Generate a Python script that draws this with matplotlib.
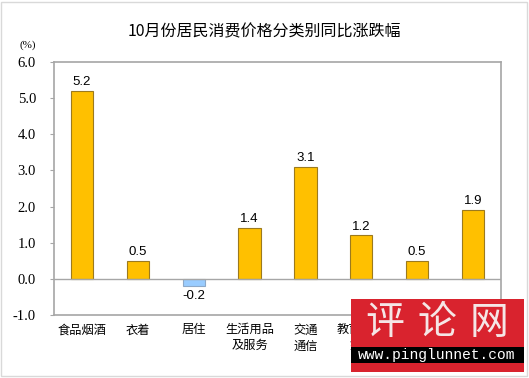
import matplotlib
matplotlib.use('Agg')
import matplotlib.pyplot as plt
from matplotlib.patches import Rectangle

plt.rcParams['font.family'] = ['Noto Sans CJK SC', 'DejaVu Sans']

# data
categories = ['食品烟酒', '衣着', '居住', '生活用品\n及服务', '交通\n通信',
              '教育文化\n娱乐', '医疗保健', '其他用品\n及服务']
values = [5.2, 0.5, -0.2, 1.4, 3.1, 1.2, 0.5, 1.9]
y_ticks = [-1.0, 0.0, 1.0, 2.0, 3.0, 4.0, 5.0, 6.0]
title = '10月份居民消费价格分类别同比涨跌幅'

W, H = 529, 378
fig = plt.figure(figsize=(W / 100, H / 100), dpi=100)
ax = fig.add_axes([54 / W, 1 - 315 / H, 447 / W, 253 / H])

colors = ['#FFC000' if v >= 0 else '#99CCFF' for v in values]
edges = ['#9C7A1E' if v >= 0 else '#8EA9C8' for v in values]
x = range(len(values))
ax.bar(x, values, width=0.4, color=colors, edgecolor=edges, linewidth=0.8, zorder=2)

for i, v in zip(x, values):
    off = 0.08 if v >= 0 else -0.12
    ax.text(i, v + off, f'{v:.1f}', ha='center', va='bottom' if v >= 0 else 'top',
            fontsize=9.5, family=['Liberation Sans'])

ax.axhline(0, color='#A6A6A6', linewidth=1, zorder=3)
ax.set_xlim(-0.5, len(values) - 0.5)
ax.set_ylim(-1.0, 6.0)
ax.set_yticks(y_ticks)
ax.set_yticklabels([f'{t:.1f}' for t in y_ticks], family=['Liberation Serif'], fontsize=10.5)
ax.set_xticks(list(x))
ax.set_xticklabels(categories, fontsize=8.8, linespacing=1.3, va='top')
ax.tick_params(axis='x', length=0, pad=6)
ax.tick_params(axis='y', length=3, color='#A6A6A6', pad=10)
for s in ax.spines.values():
    s.set_color('#A6A6A6')
    s.set_linewidth(1.2)

fig.text(28 / W, 1 - 45 / H, '(%)', family=['Liberation Serif'], fontsize=8,
         ha='center', va='center')
fig.text(0.5, 1 - 32 / H, title, fontsize=11.5, ha='center', va='center')

# outer border
fig.patches.append(Rectangle((0.002, 0.004), 0.994, 0.992, transform=fig.transFigure,
                             fill=False, edgecolor='#D9D9D9', linewidth=1))

# watermark
fig.patches.append(Rectangle((351 / W, 1 - 372 / H), 173 / W, 73 / H,
                             transform=fig.transFigure, facecolor='#D9232E',
                             edgecolor='none', zorder=5))
fig.patches.append(Rectangle((351 / W, 1 - 363 / H), 173 / W, 16 / H,
                             transform=fig.transFigure, facecolor='#000000',
                             edgecolor='none', zorder=6))
for k, ch in enumerate('评论网'):
    fig.text((385 + k * 52) / W, 1 - 323 / H, ch, fontsize=28, color='#F5E6E6',
             ha='center', va='center', zorder=7, family=['Noto Sans CJK SC'],
             fontweight='light')
fig.text(437 / W, 1 - 355 / H, 'www.pinglunnet.com', fontsize=10.5, color='white',
         ha='center', va='center', zorder=7, family=['Liberation Mono'])

fig.savefig('out.png', dpi=100)
